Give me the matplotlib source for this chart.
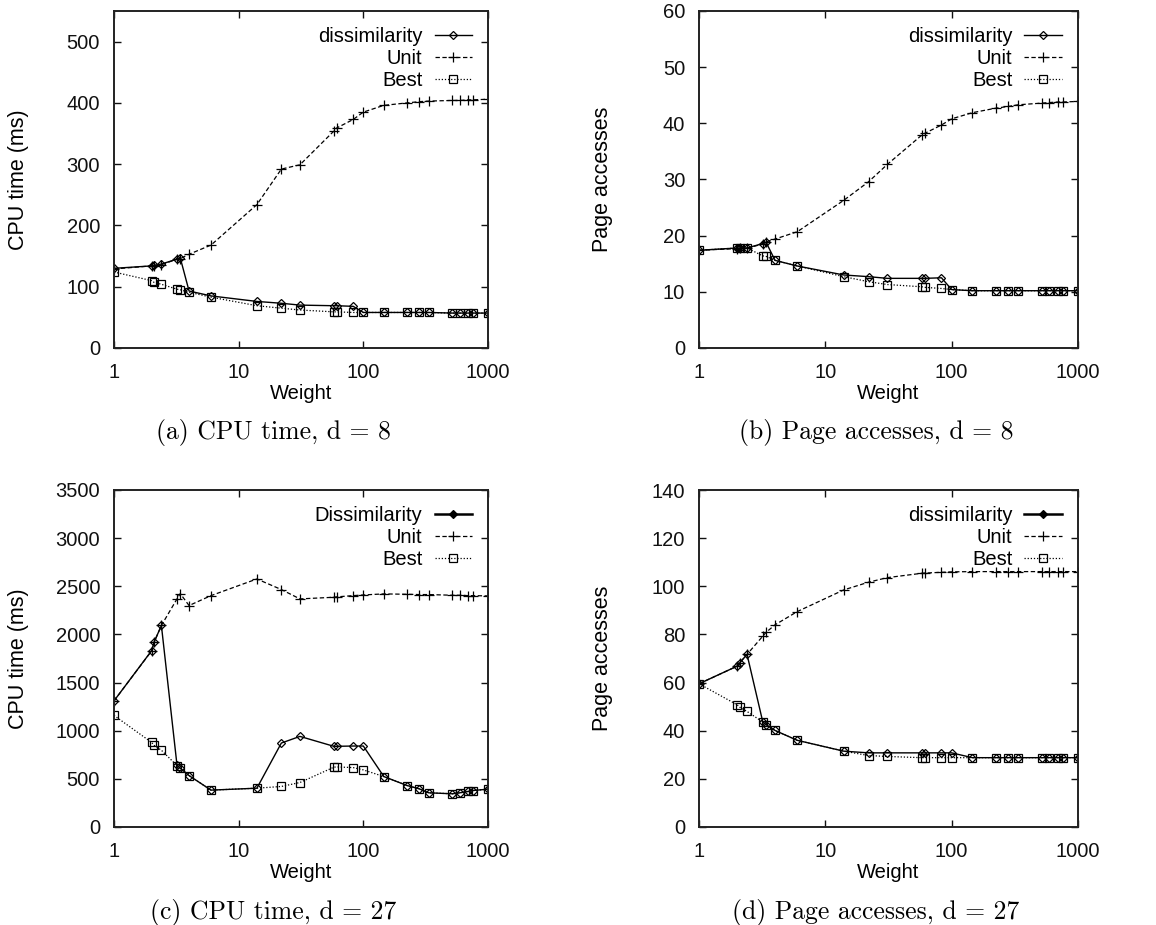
import matplotlib
matplotlib.use("Agg")
import matplotlib.pyplot as plt

plt.rcParams['font.family'] = ['Liberation Sans', 'DejaVu Sans']

# weight values (x axis, log scale)
weights = [1, 2, 2.1, 2.4, 3.2, 3.4, 4, 6, 14, 22, 31, 58, 61, 83, 100,
           146, 224, 280, 335, 518, 593, 692, 760, 1000]

# (a) CPU time, d = 8
cpu8_dis = [130, 134, 135, 137, 145, 147, 93, 85, 76, 73, 70, 69, 69, 68, 58,
            58, 58, 58, 58, 57, 57, 57, 57, 57]
cpu8_unit = [129, 134, 134, 136, 145, 146, 153, 168, 234, 292, 299, 354, 359,
             373, 385, 396, 400, 402, 403, 404, 404, 405, 405, 406]
cpu8_best = [124, 110, 107, 104, 96, 95, 91, 83, 69, 65, 62, 59, 59, 58, 58,
             58, 58, 58, 58, 57, 57, 57, 57, 57]

# (b) Page accesses, d = 8
pa8_dis = [17.4, 17.8, 17.8, 17.8, 18.6, 18.8, 15.6, 14.6, 13.0, 12.7, 12.4,
           12.4, 12.4, 12.5, 10.4, 10.2, 10.2, 10.2, 10.2, 10.2, 10.2, 10.2,
           10.2, 10.2]
pa8_unit = [17.4, 17.7, 17.8, 17.8, 18.5, 18.9, 19.4, 20.7, 26.3, 29.6, 32.7,
            37.9, 38.2, 39.7, 40.8, 41.9, 42.7, 43.0, 43.3, 43.6, 43.7, 43.8,
            43.8, 43.9]
pa8_best = [17.4, 17.8, 17.8, 17.8, 16.4, 16.3, 15.6, 14.6, 12.7, 11.8, 11.3,
            10.9, 10.8, 10.6, 10.4, 10.2, 10.2, 10.2, 10.2, 10.2, 10.2, 10.2,
            10.2, 10.2]

# (c) CPU time, d = 27
cpu27_dis = [1310, 1830, 1921, 2093, 645, 610, 534, 383, 403, 872, 941, 838,
             838, 841, 841, 524, 431, 397, 355, 345, 355, 369, 379, 393]
cpu27_unit = [1310, 1828, 1921, 2093, 2369, 2424, 2300, 2403, 2576, 2466, 2369,
              2386, 2390, 2403, 2410, 2421, 2417, 2414, 2414, 2407, 2407, 2403,
              2403, 2400]
cpu27_best = [1159, 879, 848, 797, 638, 610, 534, 383, 403, 421, 462, 621, 624,
              617, 593, 524, 431, 397, 355, 345, 355, 369, 379, 393]

# (d) Page accesses, d = 27
pa27_dis = [59.5, 66.8, 68.2, 71.7, 43.6, 42.5, 40.1, 36.0, 31.5, 30.8, 30.8,
            30.8, 30.8, 30.8, 30.8, 28.8, 28.8, 28.8, 28.8, 28.8, 28.8, 28.8,
            28.8, 28.8]
pa27_unit = [59.5, 66.8, 68.2, 71.7, 79.3, 80.9, 84.0, 89.5, 98.5, 101.7,
             103.6, 105.4, 105.5, 105.8, 106.0, 106.1, 106.1, 106.1, 106.1,
             106.1, 106.1, 106.1, 106.1, 106.1]
pa27_best = [59.5, 50.8, 49.8, 48.0, 43.6, 42.5, 40.1, 36.0, 31.5, 29.7, 29.3,
             28.8, 28.8, 28.8, 28.8, 28.8, 28.8, 28.8, 28.8, 28.8, 28.8, 28.8,
             28.8, 28.8]

panels = [
    ("(a) CPU time, d = 8", "CPU time (ms)", "dissimilarity",
     cpu8_dis, cpu8_unit, cpu8_best, 550, [0, 100, 200, 300, 400, 500]),
    ("(b) Page accesses, d = 8", "Page accesses", "dissimilarity",
     pa8_dis, pa8_unit, pa8_best, 60, [0, 10, 20, 30, 40, 50, 60]),
    ("(c) CPU time, d = 27", "CPU time (ms)", "Dissimilarity",
     cpu27_dis, cpu27_unit, cpu27_best, 3500, range(0, 3501, 500)),
    ("(d) Page accesses, d = 27", "Page accesses", "dissimilarity",
     pa27_dis, pa27_unit, pa27_best, 140, range(0, 141, 20)),
]

W, H = 1156, 925
fig = plt.figure(figsize=(W / 100, H / 100), dpi=100)

# axes boxes in pixels: left, top, right, bottom
boxes = [(114, 11, 488, 348), (699, 11, 1078, 348),
         (114, 490, 488, 827), (699, 490, 1078, 827)]
cap_x = [273, 876, 273, 876]
cap_y = [433, 433, 912, 912]

for i, (cap, ylab, dname, dis, unit, best, ymax, yt) in enumerate(panels):
    l, t, r, b = boxes[i]
    ax = fig.add_axes([l / W, 1 - b / H, (r - l) / W, (b - t) / H])

    ax.plot(weights, dis, color='black', lw=1.0, marker='D', ms=3.8,
            mfc='none', mew=0.9, label=dname)
    ax.plot(weights, unit, color='black', lw=0.9, ls=(0, (3.5, 2)),
            marker='+', ms=7, mew=0.9, label='Unit')
    ax.plot(weights, best, color='black', lw=0.9, ls=(0, (1, 1.5)),
            marker='s', ms=5.5, mfc='none', mew=0.9, label='Best')

    ax.set_xscale('log')
    ax.set_xlim(1, 1000)
    ax.set_ylim(0, ymax)
    ax.set_xticks([1, 10, 100, 1000])
    ax.set_xticklabels(['1', '10', '100', '1000'])
    ax.minorticks_off()
    ax.set_yticks(list(yt))

    ax.tick_params(direction='in', length=5, width=1, top=True, right=True,
                   labelsize=14.5, colors='#111111')
    ax.tick_params(axis='x', pad=11)
    ax.tick_params(axis='y', pad=10)
    for s in ax.spines.values():
        s.set_linewidth(1.4)
        s.set_color('#222222')

    ax.set_xlabel('Weight', fontsize=14.5, labelpad=1)
    ax.set_ylabel(ylab, fontsize=15.5)
    ax.yaxis.set_label_coords(-0.227, 0.5)

    leg = ax.legend(loc='upper right', bbox_to_anchor=(0.957, 0.953),
                    frameon=False, markerfirst=False, fontsize=14.5,
                    labelspacing=0.15, handlelength=1.85, handletextpad=0.6,
                    borderpad=0, borderaxespad=0)
    if i >= 2:
        # bottom row: dissimilarity key drawn bolder, filled marker
        leg.legend_handles[0].set_linewidth(1.8)
        leg.legend_handles[0].set_markerfacecolor('black')

    fig.text(cap_x[i] / W, 1 - cap_y[i] / H, cap, ha='center', va='center',
             fontsize=18.5, family=['cmr10', 'DejaVu Serif'])

fig.savefig('out.png', dpi=100)
